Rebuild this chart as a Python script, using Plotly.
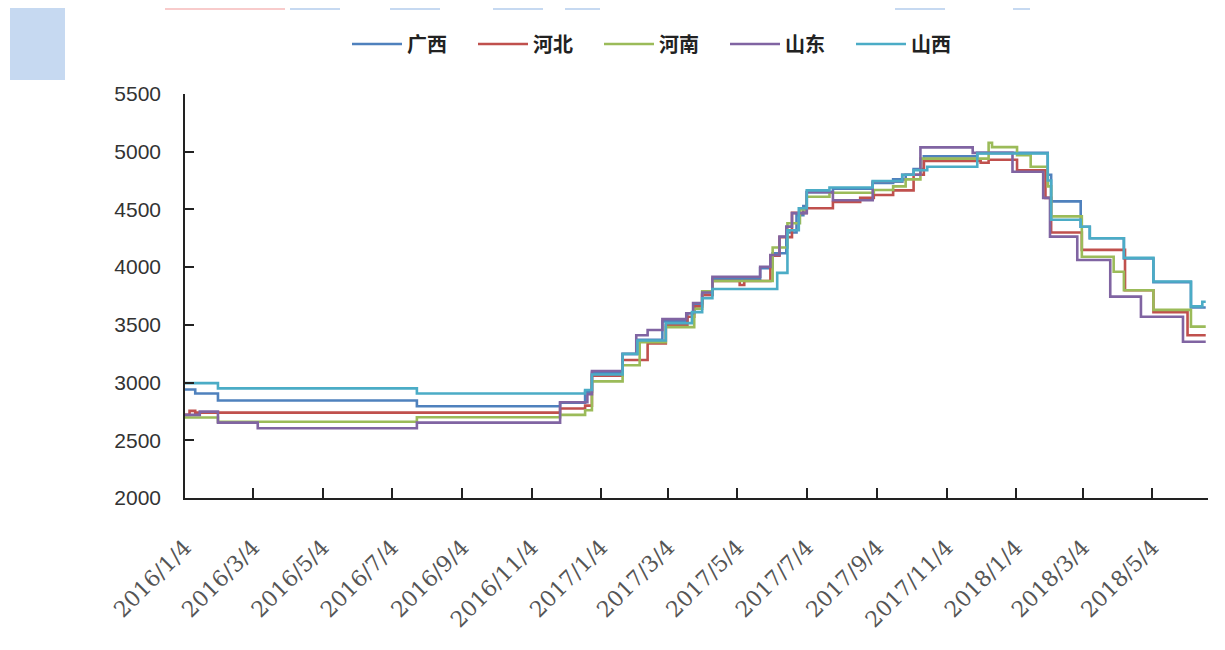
import plotly.graph_objects as go

# ---- data: change points (date, price) for each province; value holds until next date ----
gx_dates = ["2016-01-04","2016-01-13","2016-02-02","2016-07-26","2016-11-29","2016-12-21","2016-12-27",
            "2017-01-23","2017-02-05","2017-02-27","2017-03-21","2017-03-27","2017-04-03","2017-04-12",
            "2017-05-24","2017-06-04","2017-06-16","2017-06-25","2017-07-01","2017-07-04","2017-07-27",
            "2017-08-31","2017-09-18","2017-09-29","2017-10-06","2017-10-15","2017-12-01","2018-02-01",
            "2018-02-04","2018-03-02","2018-03-10","2018-04-09","2018-05-05","2018-06-07","2018-06-20"]
gx_vals = [2940,2905,2845,2795,2825,2920,3085,
           3245,3370,3530,3600,3680,3760,3900,
           3990,4120,4300,4450,4530,4650,4680,
           4730,4760,4800,4850,4960,4990,4800,
           4570,4350,4250,4075,3870,3650,3650]

hb_dates = ["2016-01-04","2016-01-08","2016-01-13","2016-11-29","2016-12-21","2016-12-27","2017-01-23",
            "2017-02-14","2017-03-02","2017-03-21","2017-03-27","2017-04-03","2017-04-12","2017-05-06",
            "2017-05-10","2017-06-02","2017-06-10","2017-06-21","2017-07-04","2017-07-27","2017-08-20",
            "2017-09-01","2017-09-18","2017-10-06","2017-10-15","2017-12-04","2017-12-11","2018-01-05",
            "2018-01-30","2018-02-04","2018-03-03","2018-04-10","2018-05-05","2018-06-04","2018-06-20"]
hb_vals = [2720,2755,2740,2775,2800,3060,3195,
           3340,3500,3570,3660,3760,3880,3845,
           3880,4100,4260,4470,4510,4565,4600,
           4625,4665,4800,4920,4905,4930,4840,
           4600,4300,4150,3800,3610,3410,3410]

hn_dates = ["2016-01-04","2016-02-02","2016-07-26","2016-11-29","2016-12-21","2016-12-27","2017-01-23",
            "2017-02-07","2017-03-02","2017-03-27","2017-04-03","2017-04-12","2017-06-04","2017-06-17",
            "2017-06-28","2017-07-04","2017-07-24","2017-09-01","2017-09-18","2017-09-29","2017-10-12",
            "2017-12-11","2017-12-14","2018-01-05","2018-01-17","2018-02-01","2018-02-04","2018-03-03",
            "2018-03-31","2018-04-09","2018-05-05","2018-06-07","2018-06-20"]
hn_vals = [2697,2660,2700,2720,2760,3010,3150,
           3350,3480,3640,3790,3880,4170,4380,
           4500,4610,4645,4668,4700,4760,4940,
           5078,5040,4970,4870,4700,4440,4090,
           3960,3800,3630,3485,3485]

sd_dates = ["2016-01-04","2016-01-17","2016-02-02","2016-03-08","2016-07-26","2016-11-29","2016-12-23",
            "2016-12-27","2017-01-23","2017-02-04","2017-02-14","2017-02-27","2017-03-20","2017-03-26",
            "2017-04-03","2017-04-12","2017-05-24","2017-06-02","2017-06-10","2017-06-16","2017-06-21",
            "2017-07-04","2017-07-27","2017-08-31","2017-09-26","2017-10-12","2017-11-27","2018-01-01",
            "2018-01-28","2018-02-03","2018-02-27","2018-03-28","2018-04-24","2018-05-31","2018-06-20"]
sd_vals = [2720,2748,2653,2604,2653,2830,2900,
           3100,3250,3410,3455,3550,3600,3690,
           3780,3917,4004,4105,4264,4351,4468,
           4650,4580,4740,4800,5038,4990,4827,
           4600,4264,4062,3745,3570,3354,3354]

sx_dates = ["2016-01-04","2016-02-02","2016-07-26","2016-12-21","2016-12-27","2017-01-23","2017-02-05",
            "2017-03-02","2017-03-25","2017-04-03","2017-04-12","2017-06-08","2017-06-17","2017-06-27",
            "2017-07-04","2017-07-24","2017-08-31","2017-09-26","2017-10-06","2017-10-18","2017-12-01",
            "2018-02-01","2018-02-04","2018-03-02","2018-03-10","2018-04-09","2018-05-05","2018-06-07",
            "2018-06-17","2018-06-20"]
sx_vals = [2995,2950,2905,2935,3070,3250,3365,
           3515,3610,3730,3810,3950,4320,4510,
           4665,4690,4745,4800,4840,4870,4985,
           4750,4410,4350,4250,4080,3875,3660,
           3700,3700]

series_names = ["广西", "河北", "河南", "山东", "山西"]
series_dates = [gx_dates, hb_dates, hn_dates, sd_dates, sx_dates]
series_vals = [gx_vals, hb_vals, hn_vals, sd_vals, sx_vals]
series_colors = ["#4F81BD", "#C0504D", "#9BBB59", "#8064A2", "#4BACC6"]

tick_dates = ["2016-01-04","2016-03-04","2016-05-04","2016-07-04","2016-09-04","2016-11-04",
              "2017-01-04","2017-03-04","2017-05-04","2017-07-04","2017-09-04","2017-11-04",
              "2018-01-04","2018-03-04","2018-05-04"]
tick_labels = ["2016/1/4","2016/3/4","2016/5/4","2016/7/4","2016/9/4","2016/11/4",
               "2017/1/4","2017/3/4","2017/5/4","2017/7/4","2017/9/4","2017/11/4",
               "2018/1/4","2018/3/4","2018/5/4"]
y_ticks = [2000, 2500, 3000, 3500, 4000, 4500, 5000, 5500]

fig = go.Figure()
for name, d, v, c in zip(series_names, series_dates, series_vals, series_colors):
    fig.add_trace(go.Scatter(x=d, y=v, name=name, mode="lines",
                             line=dict(color=c, width=2.6, shape="hv")))

# page is rendered with an 8px body margin; figure coords = page coords - 8
OFF = 8
L, R, T, B = 185 - OFF, 1208 - OFF, 94 - OFF, 498 - OFF
def px(xp):
    return (xp - OFF - L) / (R - L)
def py(yp):
    return (B - (yp - OFF)) / (B - T)

deco = [
    (10, 8, 65, 80, "#C6D9F1"),
    (165, 8, 285, 10, "#F8CBCB"),
    (290, 8, 340, 10, "#C6D9F1"),
    (390, 8, 440, 10, "#C6D9F1"),
    (493, 8, 543, 10, "#C6D9F1"),
    (565, 8, 600, 10, "#C6D9F1"),
    (895, 8, 945, 10, "#C6D9F1"),
    (1013, 8, 1030, 10, "#C6D9F1"),
]
shapes = []
for x0, y0, x1, y1, col in deco:
    shapes.append(dict(type="rect", xref="paper", yref="paper",
                       x0=px(x0), x1=px(x1), y0=py(y1), y1=py(y0),
                       fillcolor=col, line=dict(width=0), layer="below"))

fig.update_layout(
    width=1225, height=650,
    margin=dict(l=L, r=1225 - R, t=T, b=650 - B),
    paper_bgcolor="white", plot_bgcolor="white",
    showlegend=True,
    legend=dict(orientation="h", x=px(662), xanchor="center", y=py(44), yanchor="middle",
                font=dict(family="Noto Sans CJK SC", size=20, color="#222", weight="bold"),
                itemwidth=50, entrywidth=61, entrywidthmode="pixels", bgcolor="rgba(0,0,0,0)"),
    shapes=shapes,
)
fig.update_xaxes(type="date", range=["2016-01-04", "2018-06-22"],
                 tickmode="array", tickvals=tick_dates, ticktext=tick_labels,
                 tickangle=-45, ticks="inside", ticklen=10, tickwidth=1.5, tickcolor="#222",
                 showline=True, linecolor="#222", linewidth=1.5, showgrid=False, zeroline=False,
                 tickfont=dict(family="DejaVu Serif", size=22, color="#555"),
                 ticklabelstandoff=26)
fig.update_yaxes(range=[2000, 5500], tickmode="array", tickvals=y_ticks,
                 ticks="inside", ticklen=9, tickwidth=1.5, tickcolor="#222",
                 showline=True, linecolor="#222", linewidth=1.5, showgrid=False, zeroline=False,
                 tickfont=dict(family="Liberation Sans", size=21, color="#333"),
                 ticklabelstandoff=18)

fig.write_html("out.html")
